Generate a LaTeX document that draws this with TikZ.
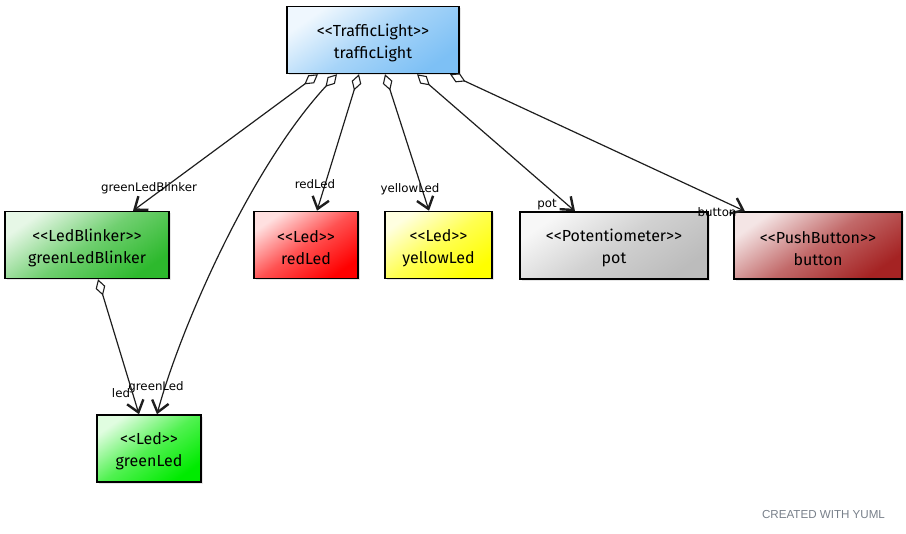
\documentclass[tikz,border=0pt]{standalone}
\usepackage{fontspec}
\setmainfont{DejaVu Sans}
\newfontfamily\boxfont{Fira Sans}
\newfontfamily\yumlfont{Liberation Sans}
\usetikzlibrary{arrows.meta,shadows}

\definecolor{tlblue}{RGB}{125,192,245}
\definecolor{blinkgreen}{RGB}{45,185,45}
\definecolor{ledred}{RGB}{255,0,0}
\definecolor{ledyellow}{RGB}{255,255,0}
\definecolor{potgrey}{RGB}{188,188,188}
\definecolor{btnred}{RGB}{165,35,35}
\definecolor{ledgreen}{RGB}{0,235,0}
\definecolor{yumlgrey}{RGB}{120,128,138}
\definecolor{edgegrey}{RGB}{30,30,30}

% stereotype and name, first line pushed down a little
\newcommand{\classtext}[2]{\rule{0pt}{18pt}<<#1>>\\#2}

\tikzset{
  classbox/.style={draw, line width=1.5pt, align=center, inner sep=0pt,
    minimum height=67pt, font=\boxfont\fontsize{16}{22}\selectfont,
    top color=#1!12!white, bottom color=#1, middle color=#1!68!white, shading angle=35,
    drop shadow={opacity=0.2, shadow xshift=2pt, shadow yshift=-2pt}},
  assoc/.style={line width=1.2pt, draw=edgegrey,
    {Diamond[open, length=17pt, width=10pt, line width=1.1pt]}-{Straight Barb[length=11pt, width=17pt, line width=2.4pt]}},
  lbl/.style={font=\fontsize{11.8}{13}\selectfont, inner sep=0pt}
}

\begin{document}
\begin{tikzpicture}[x=1pt, y=-1pt]
	\useasboundingbox (0,0) rectangle (906,534);
	\node[classbox=tlblue, minimum width=172pt] (tl) at (373,40) {\classtext{TrafficLight}{trafficLight}};
	\node[classbox=blinkgreen, minimum width=164pt] (glb) at (87,245) {\classtext{LedBlinker}{greenLedBlinker}};
	\node[classbox=ledred, minimum width=104pt] (red) at (306,245) {\classtext{Led}{redLed}};
	\node[classbox=ledyellow, minimum width=107pt] (yel) at (438.5,245) {\classtext{Led}{yellowLed}};
	\node[classbox=potgrey, minimum width=188pt] (pot) at (614,245.5) {\classtext{Potentiometer}{pot}};
	\node[classbox=btnred, minimum width=168pt] (btn) at (818,245.5) {\classtext{PushButton}{button}};
	\node[classbox=ledgreen, minimum width=104pt] (gl) at (149,448.5) {\classtext{Led}{greenLed}};

	\draw[assoc] ([xshift=-55pt]tl.south) -- ([xshift=46pt]glb.north) node[lbl, shift={(16,-23)}] {greenLedBlinker};
	\draw[assoc] ([xshift=-36pt]tl.south) .. controls +(-87,94) and +(23,-85) .. ([xshift=8pt]gl.north) node[lbl, shift={(-1,-27)}] {greenLed};
	\draw[assoc] ([xshift=-14pt]tl.south) -- ([xshift=11pt]red.north) node[lbl, shift={(-2,-27)}] {redLed};
	\draw[assoc] ([xshift=12pt]tl.south) -- ([xshift=-9.5pt]yel.north) node[lbl, shift={(-19,-22)}] {yellowLed};
	\draw[assoc] ([xshift=44pt]tl.south) -- ([xshift=-39pt]pot.north) node[lbl, shift={(-28,-7)}] {pot};
	\draw[assoc] ([xshift=77pt]tl.south) -- ([xshift=-73pt]btn.north) node[lbl, shift={(-28,1)}] {button};
	\draw[assoc] ([xshift=11pt]glb.south) -- ([xshift=-10pt]gl.north) node[lbl, shift={(-18,-21)}] {led};

	\node[font=\yumlfont\fontsize{11.6}{13}\selectfont, text=yumlgrey] (credit) at (823.5,515) {CREATED WITH YUML};
\end{tikzpicture}
\end{document}
